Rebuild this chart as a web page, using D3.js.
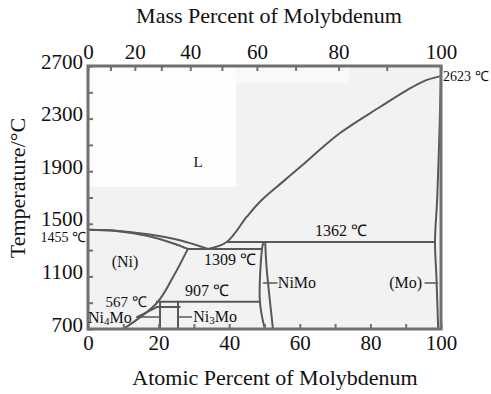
<!DOCTYPE html>
<html>
<head>
<meta charset="utf-8">
<script src="https://cdn.jsdelivr.net/npm/d3@7"></script>
<style>
  html, body { margin: 0; padding: 0; background: #fff; }
  svg { display: block; }
  text { font-family: "Liberation Serif", "Times New Roman", serif; fill: #111; }
</style>
</head>
<body>
<svg id="chart" width="491" height="394"></svg>
<script>
// ---------- data (atomic % Mo, temperature °C) ----------
const atomicTicks = [0, 10, 20, 30, 40, 50, 60, 70, 80, 90, 100];
const atomicLabels = [0, 20, 40, 60, 80, 100];
const massTicks = [0, 10, 20, 30, 40, 50, 60, 70, 80, 90, 100];
const massLabels = [0, 20, 40, 60, 80, 100];
const tempTicks = [700, 900, 1100, 1300, 1500, 1700, 1900, 2100, 2300, 2500, 2700];
const tempLabels = [700, 1100, 1500, 1900, 2300, 2700];
const molarMassMo = 95.95;
const molarMassNi = 58.69;

// phase boundaries
const liquidusNi = [[0, 1455], [8, 1448], [17, 1420], [26, 1375], [34, 1309]];
const solidusNi = [[0, 1455], [8, 1445], [17, 1407], [24, 1352], [28.3, 1309]];
const liquidusMo = [[34, 1309], [39.3, 1362], [45, 1554], [49, 1675], [55, 1815], [60.1, 1932], [71.4, 2190], [82.7, 2388], [90.4, 2517], [96, 2594], [100, 2623]];
const solvusNi = [[28.3, 1309], [24.1, 1095], [19.5, 898], [10, 700]];
const solidusMo = [[100, 2623], [99.4, 2056], [98.9, 1680], [98.3, 1362], [98.7, 1100], [99.2, 700]];
const nimoLeft = [[49.7, 1362], [49.3, 1309], [48.7, 907], [50.1, 700]];
const nimoRight = [[50.2, 1362], [50.5, 1200], [51, 1050], [52.4, 700]];
const eutecticLine = [[28.3, 1309], [49.3, 1309]];
const peritecticLine = [[39.3, 1362], [98.3, 1362]];
const line907 = [[19.5, 907], [48.7, 907]];
const ni4moTop = [[19.5, 867], [26, 867]];
const ni4moLeft = [[13.9, 791], [19.5, 867]];
const ni4moLine = [[20.4, 907], [20.4, 700]];
const ni3moLine = [[25.5, 907], [25.5, 700]];
const leaders = [
  [[13.9, 791], [20.4, 791]],
  [[25.5, 791], [29.3, 791]],
  [[49.7, 1050], [53.5, 1050]],
  [[95.5, 1050], [99, 1050]]
];

// labels: [text, atomic %, temperature, anchor, size]
const labels = [
  ["L", 31.2, 1970, "middle", 15],
  ["1362 ℃", 71.7, 1452, "middle", 16],
  ["(Ni)", 10.5, 1217, "middle", 16],
  ["1309 ℃", 40.2, 1232, "middle", 16],
  ["907 ℃", 33.7, 989, "middle", 16],
  ["567 ℃", 10.8, 908, "middle", 15],
  ["NiMo", 59.2, 1050, "middle", 16],
  ["(Mo)", 90, 1050, "middle", 16]
];

// ---------- layout ----------
const svg = d3.select("#chart");
const x = d3.scaleLinear().domain([0, 100]).range([88, 441]);
const y = d3.scaleLinear().domain([700, 2700]).range([329, 66]);
const toAtomic = w => {
  const m = w / molarMassMo, n = (100 - w) / molarMassNi;
  return 100 * m / (m + n);
};
const xMass = d3.scaleLinear().domain(massTicks).range(massTicks.map(w => x(toAtomic(w))));

// background
svg.append("rect").attr("x", x(0)).attr("y", y(2700))
  .attr("width", x(100) - x(0)).attr("height", y(700) - y(2700)).attr("fill", "#f2f2f2");
svg.append("rect").attr("x", x(0)).attr("y", y(2700))
  .attr("width", x(42) - x(0)).attr("height", y(1780) - y(2700)).attr("fill", "#fdfdfd");
svg.append("rect").attr("x", x(42)).attr("y", y(2700))
  .attr("width", x(74) - x(42)).attr("height", y(2570) - y(2700)).attr("fill", "#f9f9f9");

// phase lines
const smooth = d3.line().x(d => x(d[0])).y(d => y(d[1])).curve(d3.curveCatmullRom.alpha(0.5));
const straight = d3.line().x(d => x(d[0])).y(d => y(d[1]));
const lineColor = "#585858";
const g = svg.append("g").attr("fill", "none").attr("stroke", lineColor).attr("stroke-width", 2).attr("stroke-linecap", "round");
[liquidusNi, solidusNi, liquidusMo, solidusMo, nimoLeft, nimoRight, solvusNi].forEach(d =>
  g.append("path").attr("d", smooth(d)));
[eutecticLine, peritecticLine, line907, ni4moTop, ni4moLeft, ni4moLine, ni3moLine].forEach(d =>
  g.append("path").attr("d", straight(d)));
leaders.forEach(d => g.append("path").attr("d", straight(d)).attr("stroke-width", 1.5));

// frame
svg.append("rect").attr("x", x(0)).attr("y", y(2700))
  .attr("width", x(100) - x(0)).attr("height", y(700) - y(2700))
  .attr("fill", "none").attr("stroke", "#707070").attr("stroke-width", 3);

// axes
function styleAxis(sel) {
  sel.select(".domain").remove();
  sel.selectAll(".tick line").attr("stroke", "#707070").attr("stroke-width", 2);
  sel.selectAll(".tick text").style("font-family", '"Liberation Serif", "Times New Roman", serif').attr("fill", "#111");
}
const axisB = svg.append("g").attr("transform", `translate(0,${y(700)})`)
  .call(d3.axisBottom(x).tickValues(atomicTicks).tickSize(-5).tickPadding(6)
    .tickFormat(d => atomicLabels.includes(d) ? d : ""));
styleAxis(axisB);
axisB.selectAll(".tick text").attr("font-size", 21);

const axisT = svg.append("g").attr("transform", `translate(0,${y(2700)})`)
  .call(d3.axisTop(xMass).tickValues(massTicks).tickSize(-5).tickPadding(7)
    .tickFormat(d => massLabels.includes(d) ? d : ""));
styleAxis(axisT);
axisT.selectAll(".tick text").attr("font-size", 21);

const axisL = svg.append("g").attr("transform", `translate(${x(0)},0)`)
  .call(d3.axisLeft(y).tickValues(tempTicks).tickSize(-5).tickPadding(5)
    .tickFormat(d => tempLabels.includes(d) ? d : ""));
styleAxis(axisL);
axisL.selectAll(".tick text").attr("font-size", 21).attr("dy", "0.1em");

// titles
svg.append("text").attr("x", 269).attr("y", 23).attr("text-anchor", "middle")
  .attr("font-size", 22).text("Mass Percent of Molybdenum");
svg.append("text").attr("x", 275).attr("y", 385).attr("text-anchor", "middle")
  .attr("font-size", 22).text("Atomic Percent of Molybdenum");
svg.append("text").attr("transform", "translate(25,188) rotate(-90)").attr("text-anchor", "middle")
  .attr("font-size", 22).text("Temperature/°C");

// phase labels
labels.forEach(([t, a, T, anchor, size]) => {
  svg.append("text").attr("x", x(a)).attr("y", y(T)).attr("text-anchor", anchor)
    .attr("dominant-baseline", "central").attr("font-size", size).text(t);
});
svg.append("text").attr("x", x(100) + 2).attr("y", y(2623)).attr("dominant-baseline", "central")
  .attr("font-size", 14).text("2623 ℃");
svg.append("text").attr("x", x(0) - 2).attr("y", y(1455) + 8).attr("text-anchor", "end")
  .attr("dominant-baseline", "central").attr("font-size", 14).text("1455 ℃");

// subscripted compound labels
function compound(sub, a, T) {
  const t = svg.append("text").attr("x", x(a)).attr("y", y(T)).attr("text-anchor", "middle")
    .attr("dominant-baseline", "central").attr("font-size", 16);
  t.append("tspan").text("Ni");
  t.append("tspan").attr("font-size", 11).attr("dy", 4).text(sub);
  t.append("tspan").attr("dy", -4).text("Mo");
}
compound("4", 6.2, 795);
compound("3", 36, 799);
</script>
</body>
</html>
